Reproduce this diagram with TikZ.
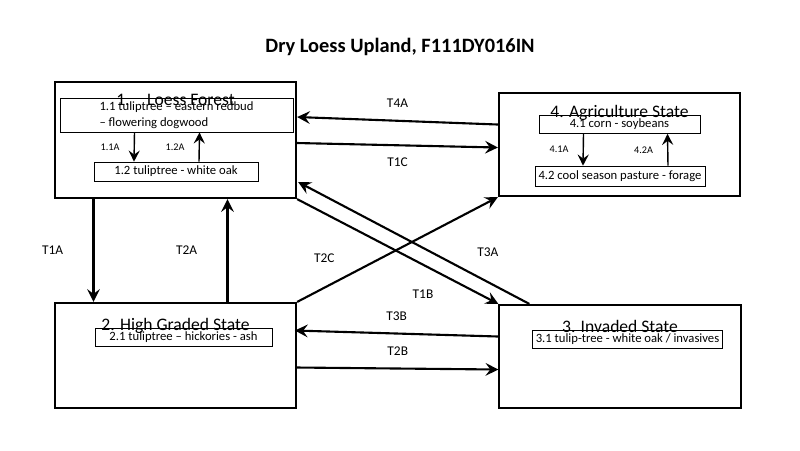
\documentclass[tikz,border=0pt]{standalone}
\usepackage{fontspec}
\setmainfont{Carlito}
\usetikzlibrary{calc}
\tikzset{
  statebox/.style={draw, semithick, minimum width=2.41cm, minimum height=#1, inner sep=0},
  phasebox/.style={draw, very thin, inner sep=1pt, font=\fontsize{3.6}{4.4}\selectfont},
  boxtitle/.style={anchor=north, font=\fontsize{5}{6}\selectfont},
  trans/.style={->, >=stealth, semithick},
  tlabel/.style={font=\fontsize{3.8}{4.5}\selectfont},
  slabel/.style={font=\fontsize{2.9}{3.5}\selectfont, inner sep=1pt}
}
\begin{document}
\begin{tikzpicture}[x=0.01cm, y=-0.01cm]
  \useasboundingbox (0,0) rectangle (800,450);

  \node[font=\bfseries\fontsize{5.8}{7}\selectfont] (title) at (400,47) {Dry Loess Upland, F111DY016IN};

  % state boxes
  \node[statebox=1.16cm] (b1) at (175.5,140) {};
  \node[statebox=1.03cm] (b4) at (619.5,144.5) {};
  \node[statebox=1.05cm] (b2) at (175.5,355.5) {};
  \node[statebox=1.03cm] (b3) at (620,356.5) {};

  \node[boxtitle] (h1) at ($(b1.north)+(0,1)$) {1.\quad Loess Forest};
  \node[boxtitle] (h4) at ($(b4.north)+(0,1)$) {4. Agriculture State};
  \node[boxtitle] (h2) at ($(b2.north)+(0,4)$) {2. High Graded State};
  \node[boxtitle] (h3) at ($(b3.north)+(0,4)$) {3. Invaded State};

  % community phases
  \node[phasebox, minimum width=2.33cm, minimum height=0.34cm, align=left] (p11) at (176.5,115)
    {1.1 tuliptree -- eastern redbud\\-- flowering dogwood};
  \node[phasebox, minimum width=1.64cm, minimum height=0.19cm] (p12) at (176,171.5) {1.2 tuliptree - white oak};
  \node[phasebox, minimum width=1.61cm, minimum height=0.17cm] (p41) at (619.5,124.5) {4.1 corn - soybeans};
  \node[phasebox, minimum width=1.66cm, minimum height=0.2cm] (p42) at (620,176) {4.2 cool season pasture - forage};
  \node[phasebox, minimum width=1.77cm, minimum height=0.17cm] (p21) at (183.5,337.5) {2.1 tuliptree -- hickories - ash};
  \node[phasebox, minimum width=1.81cm, minimum height=0.17cm] (p31) at (627.5,339.5) {3.1 tulip-tree - white oak / invasives};

  % pathways
  \draw[->, >=stealth] ($(p11.south)+(-42,0)$) -- ($(p12.north)+(-42,0)$) node[slabel, midway, left=3pt] {1.1A};
  \draw[->, >=stealth] ($(p12.north)+(23,0)$) -- ($(p11.south)+(23,0)$) node[slabel, midway, left=3pt] {1.2A};
  \draw[->, >=stealth] ($(p41.south)+(-36,0)$) -- ($(p42.north)+(-37,0)$) node[slabel, midway, left=3pt] {4.1A};
  \draw[->, >=stealth] ($(p42.north)+(48,0)$) -- ($(p41.south)+(48,0)$) node[slabel, midway, left=3pt] {4.2A};

  % transitions
  \draw[trans] ($(b4.west)+(0,-20)$) -- ($(b1.east)+(0,-23)$) node[tlabel, midway, above] {T4A};
  \draw[trans] ($(b1.east)+(0,3)$) -- ($(b4.west)+(0,3)$) node[tlabel, midway, below] {T1C};
  \draw[trans] ($(b1.south)+(-82,0)$) -- ($(b2.north)+(-82,0)$) node[tlabel, midway, left=5pt] {T1A};
  \draw[trans] ($(b2.north)+(52,0)$) -- ($(b1.south)+(52,0)$) node[tlabel, midway, left=5pt] {T2A};
  \draw[trans] (b2.north east) -- (b4.south west) node[tlabel, pos=0.25, above left] {T2C};
  \draw[trans] ($(b3.north west)+(31,0)$) -- ($(b1.east)+(1,42)$) node[tlabel, pos=0.28, above right] {T3A};
  \draw[trans] (b1.south east) -- (b3.north west) node[tlabel, pos=0.74, below left] {T1B};
  \draw[trans] ($(b3.west)+(0,-20)$) -- ($(b2.west)+(241,-25)$) node[tlabel, midway, above] {T3B};
  \draw[trans] ($(b2.east)+(0,12)$) -- ($(b3.west)+(0,13)$) node[tlabel, midway, above] {T2B};
\end{tikzpicture}
\end{document}
